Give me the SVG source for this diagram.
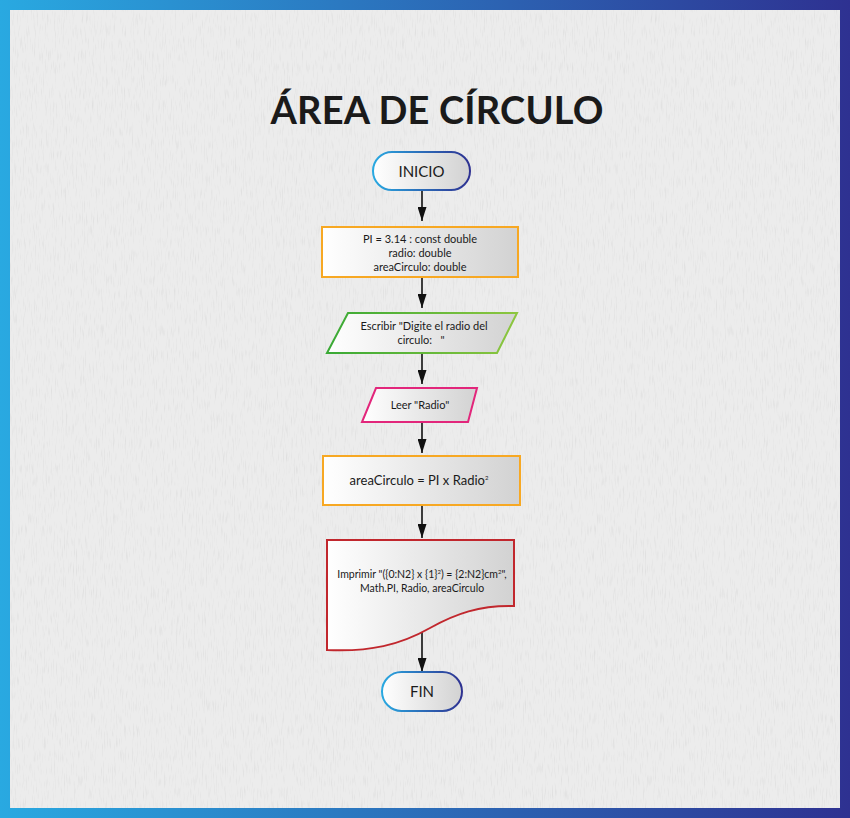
<svg xmlns="http://www.w3.org/2000/svg" width="850" height="818" viewBox="0 0 850 818">
<defs>
<linearGradient id="frame" x1="0" y1="0" x2="1" y2="0"><stop offset="0" stop-color="#29a9e1"/><stop offset="1" stop-color="#2e3191"/></linearGradient>
<linearGradient id="fillg" x1="0" y1="0" x2="1" y2="0"><stop offset="0" stop-color="#ffffff"/><stop offset="1" stop-color="#d2d2d2"/></linearGradient>
<linearGradient id="blue" x1="0" y1="0" x2="1" y2="0"><stop offset="0" stop-color="#29a9e1"/><stop offset="1" stop-color="#2e3191"/></linearGradient>
<linearGradient id="green" x1="0" y1="0" x2="1" y2="0"><stop offset="0" stop-color="#39a935"/><stop offset="1" stop-color="#8dc63f"/></linearGradient>
<filter id="paper" x="0" y="0" width="1" height="1">
<feTurbulence type="fractalNoise" baseFrequency="0.9 0.08" numOctaves="2" seed="3" result="n"/>
<feColorMatrix in="n" type="matrix" values="0 0 0 0 0.55  0 0 0 0 0.55  0 0 0 0 0.55  0 0 0 -2.2 1.05" result="m"/>
<feComposite in="m" in2="SourceGraphic" operator="in"/>
</filter>
<marker id="arr" viewBox="0 0 14 9" refX="14" refY="4.5" markerWidth="14" markerHeight="9" markerUnits="userSpaceOnUse" orient="auto"><path d="M0,0 L14,4.5 L0,9 Z" fill="#111"/></marker>
<style>
text{font-family:Lato,"Liberation Sans",sans-serif;fill:#1a1a1a;text-anchor:middle}
.t{font-size:11px}
.big{font-size:15px}
.conn line{stroke:#111;stroke-width:1.6;marker-end:url(#arr)}
</style>
</defs>
<rect x="0" y="0" width="850" height="818" fill="url(#frame)"/>
<rect x="10" y="10" width="830" height="798" fill="#ececec"/>
<rect x="10" y="10" width="830" height="798" fill="#ececec" filter="url(#paper)" opacity="0.35"/>
<text id="title" x="437" y="124" style="font-size:38px;font-weight:700" fill="#1a1a1a" textLength="333" lengthAdjust="spacing">ÁREA DE CÍRCULO</text>
<g class="conn">
<line x1="422" y1="190" x2="422" y2="221"/>
<line x1="422" y1="277" x2="422" y2="308"/>
<line x1="422" y1="354" x2="422" y2="384"/>
<line x1="422" y1="422" x2="422" y2="453"/>
<line x1="422" y1="506" x2="422" y2="538"/>
<line x1="422" y1="631" x2="422" y2="672"/>
</g>
<g id="inicio">
<rect x="373" y="152" width="97" height="38" rx="19" fill="url(#fillg)" stroke="url(#blue)" stroke-width="2"/>
<text x="421.5" y="177" class="big">INICIO</text>
</g>
<g id="decl">
<rect x="322" y="227" width="196" height="50" fill="url(#fillg)" stroke="#f7a823" stroke-width="2"/>
<text x="420" y="243" class="t">PI = 3.14 : const double</text>
<text x="420" y="257" class="t">radio: double</text>
<text x="420" y="271" class="t">areaCirculo: double</text>
</g>
<g id="escribir">
<polygon points="348,313 517,313 497,353 327,353" fill="url(#fillg)" stroke="url(#green)" stroke-width="2"/>
<text x="424" y="330" class="t">Escribir "Digite el radio del</text>
<text x="421" y="344" class="t" xml:space="preserve">circulo:   "</text>
</g>
<g id="leer">
<polygon points="376,388 477,388 468,422 362,422" fill="url(#fillg)" stroke="#e2267b" stroke-width="2"/>
<text x="420" y="409" class="t">Leer "Radio"</text>
</g>
<g id="calc">
<rect x="323" y="456" width="197" height="49" fill="url(#fillg)" stroke="#f7a823" stroke-width="2"/>
<text x="419" y="485" style="font-size:13px">areaCirculo = PI x Radio<tspan style="font-size:6px" dy="-5">2</tspan></text>
</g>
<g id="imprimir">
<path d="M327,540 L514,540 L514,606 C480,605 455,614 430,628 C400,645 370,652 327,650 Z" fill="url(#fillg)" stroke="#c1272d" stroke-width="2"/>
<text x="422" y="578" style="font-size:10.5px">Imprimir "({0:N2} x {1}<tspan style="font-size:6px" dy="-4">2</tspan><tspan dy="4">) = {2:N2}cm</tspan><tspan style="font-size:6px" dy="-4">2</tspan><tspan dy="4">",</tspan></text>
<text x="422" y="592" style="font-size:10.5px">Math.PI, Radio, areaCirculo</text>
</g>
<g id="fin">
<rect x="382" y="672" width="80" height="39" rx="19.5" fill="url(#fillg)" stroke="url(#blue)" stroke-width="2"/>
<text x="422" y="697" class="big">FIN</text>
</g>
</svg>
